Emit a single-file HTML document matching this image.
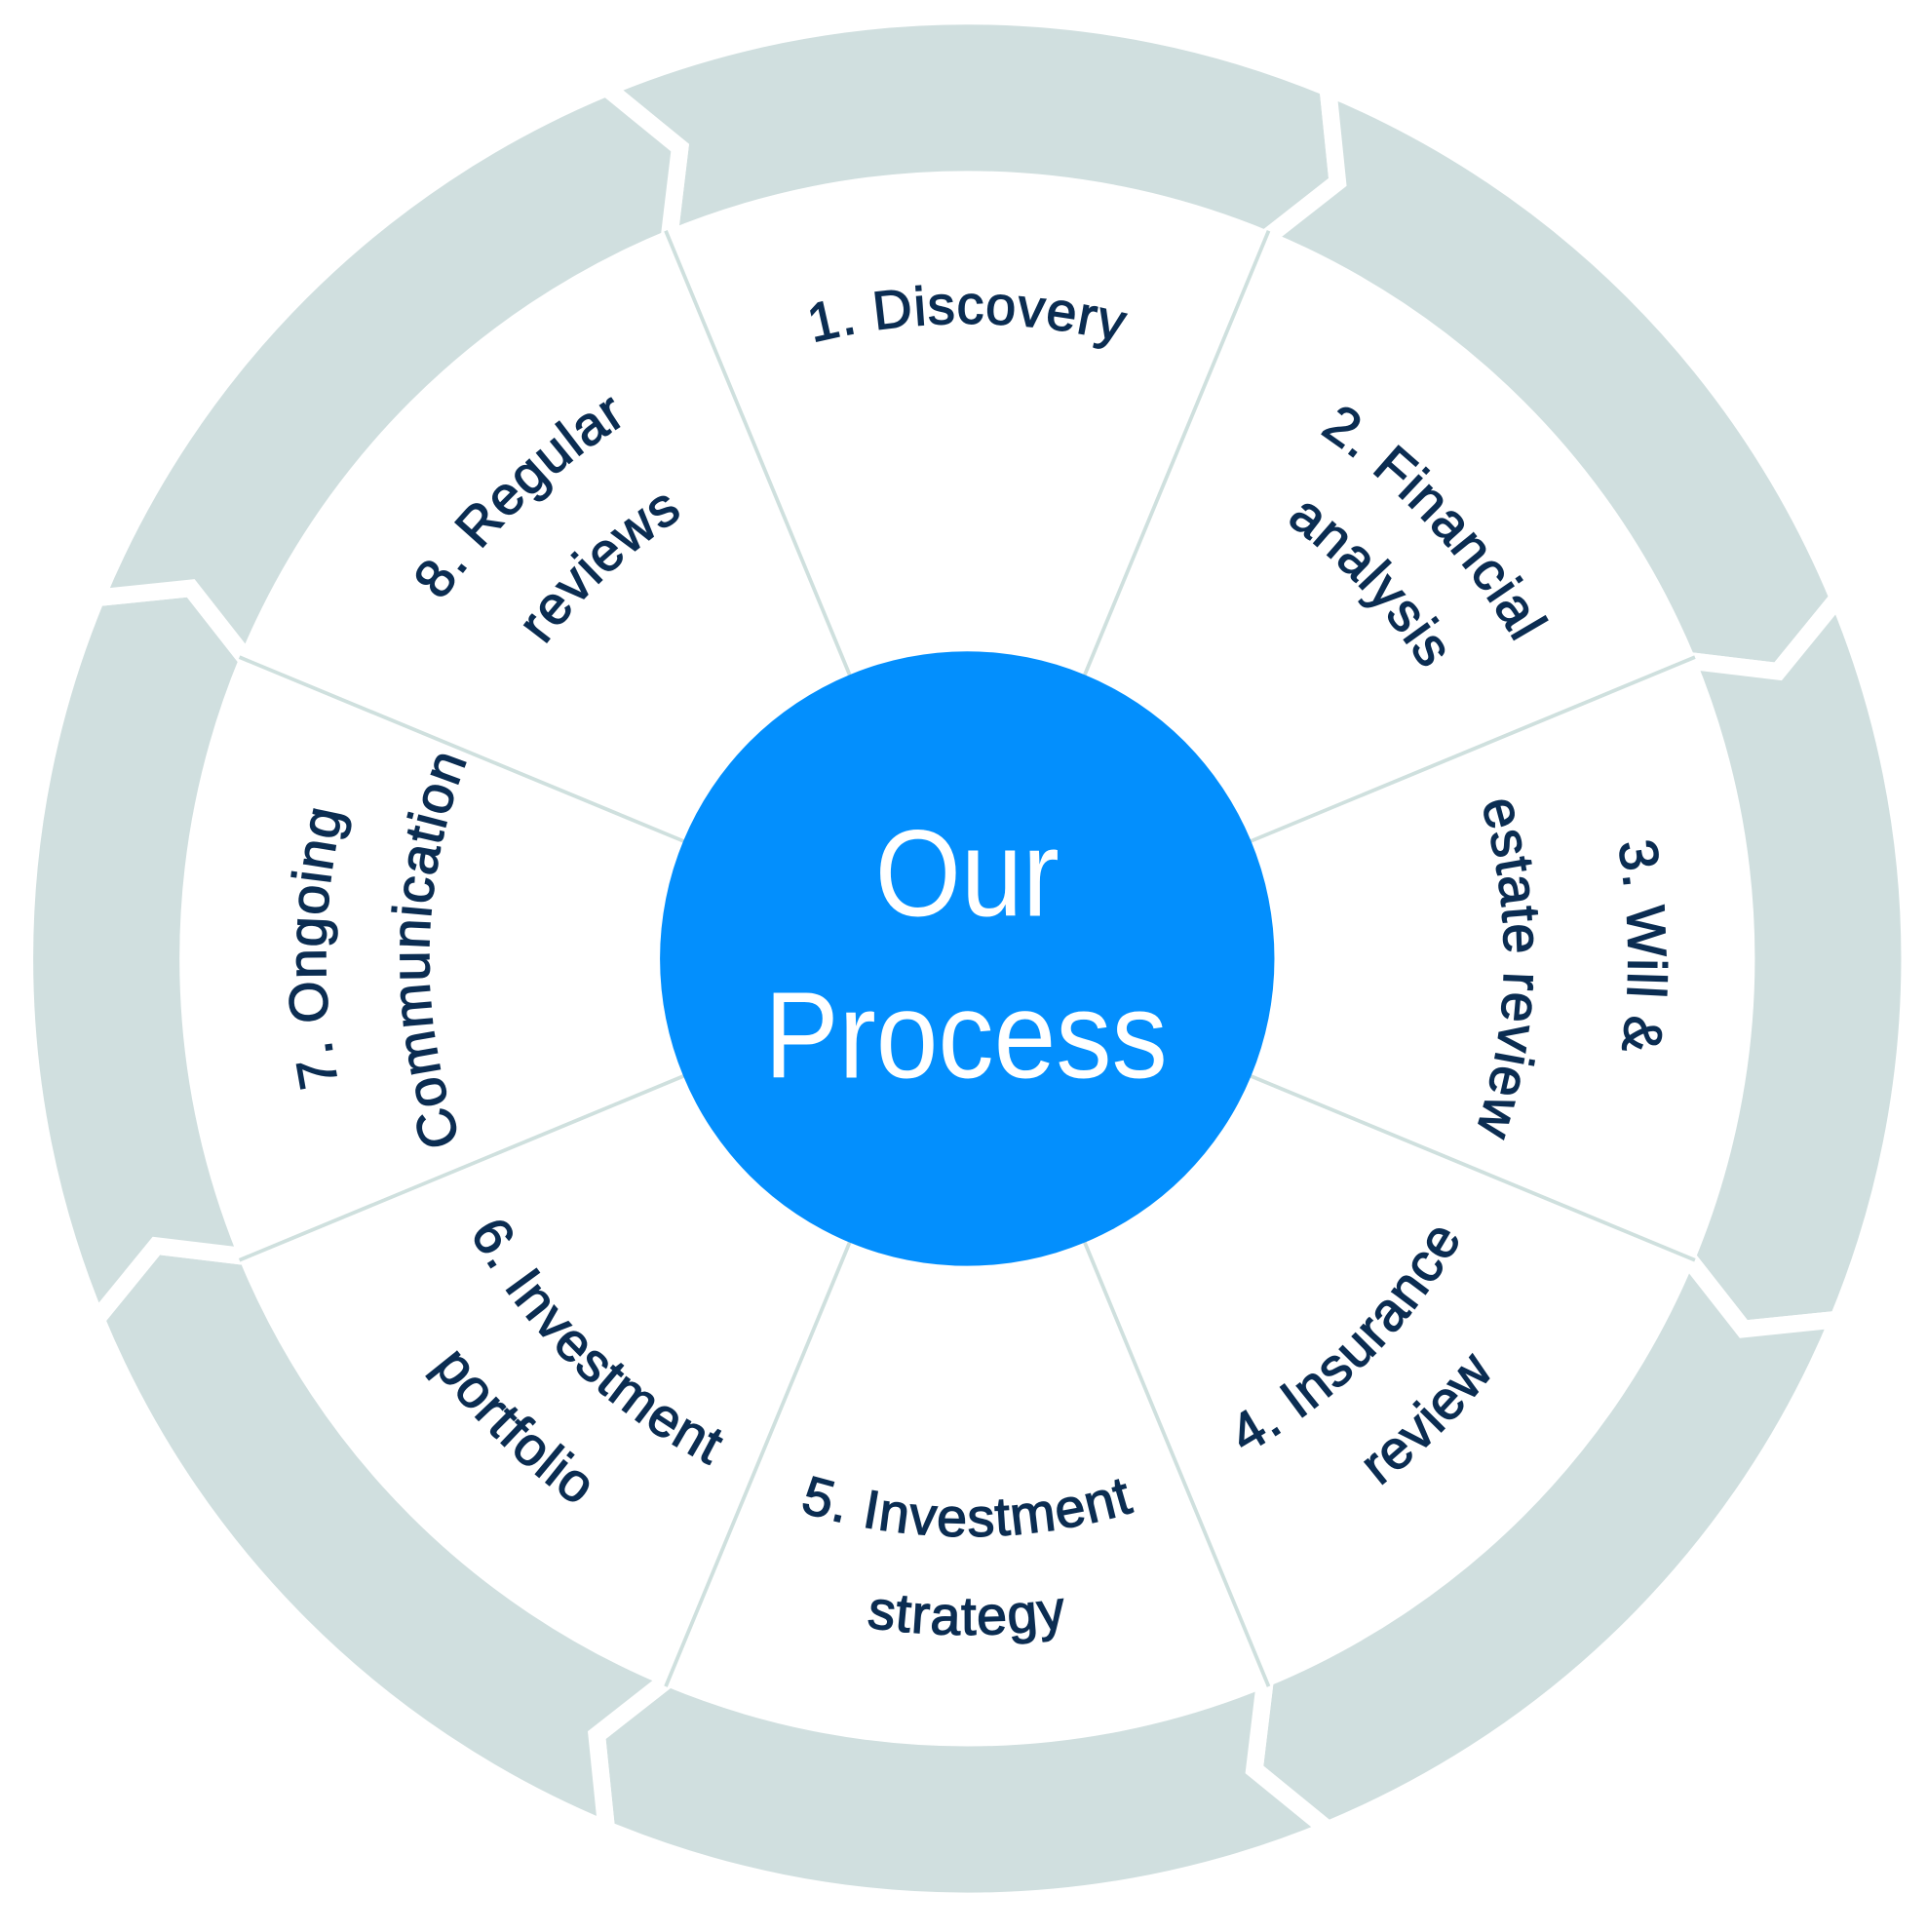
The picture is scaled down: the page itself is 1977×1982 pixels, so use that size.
<!DOCTYPE html>
<html><head><meta charset="utf-8">
<style>
html,body{margin:0;padding:0;background:#fff;}
svg{display:block;}
.t{font-family:"Liberation Sans",sans-serif;font-size:44px;fill:#0b2d52;stroke:#0b2d52;stroke-width:1.1;letter-spacing:1px;}
</style></head>
<body>
<svg id="s" width="1977" height="1982" viewBox="0 0 1568 1572" xmlns="http://www.w3.org/2000/svg">
<defs id="d"></defs>
<g id="ring"></g>
<g id="spokes"></g>
<circle cx="787" cy="780" r="250" fill="#038ffd"/>
<text x="787" y="745" text-anchor="middle" font-family="Liberation Sans, sans-serif" font-size="100" fill="#fff" textLength="150" lengthAdjust="spacingAndGlyphs">Our</text>
<text x="786" y="877" text-anchor="middle" font-family="Liberation Sans, sans-serif" font-size="100" fill="#fff" textLength="328" lengthAdjust="spacingAndGlyphs">Process</text>
<g id="labels"></g>
</svg>
<script>
(function(){
var NS="http://www.w3.org/2000/svg",cx=787,cy=780;
function P(r,a){a=a*Math.PI/180;return [cx+r*Math.cos(a),cy+r*Math.sin(a)];}
function f(p){return p[0].toFixed(1)+","+p[1].toFixed(1);}
var Ro=767,Ri=634,Rm=700,d=3;
var ring=document.getElementById("ring"),sp=document.getElementById("spokes");
for(var i=0;i<8;i++){
 var c=-90+45*i,a0=c-22.5,a1=c+22.5;
 var p="M"+f(P(Ro,a0))+" A"+Ro+","+Ro+" 0 0 1 "+f(P(Ro,a1))+" L"+f(P(Rm,a1+d))+" L"+f(P(Ri,a1))+" A"+Ri+","+Ri+" 0 0 0 "+f(P(Ri,a0))+" L"+f(P(Rm,a0+d))+" Z";
 var e=document.createElementNS(NS,"path");e.setAttribute("d",p);e.setAttribute("fill","#d0dfdf");e.setAttribute("stroke","#fff");e.setAttribute("stroke-width","14");e.setAttribute("stroke-linejoin","miter");ring.appendChild(e);
 var l=document.createElementNS(NS,"line");var q0=P(250,a0),q1=P(641,a0);
 l.setAttribute("x1",q0[0]);l.setAttribute("y1",q0[1]);l.setAttribute("x2",q1[0]);l.setAttribute("y2",q1[1]);
 l.setAttribute("stroke","#cfe0de");l.setAttribute("stroke-width","3");sp.appendChild(l);
}
var defs=document.getElementById("d"),lab=document.getElementById("labels"),n=0;
function arc(r,c,cw,txt){
 var id="a"+(n++),pa=document.createElementNS(NS,"path"),s,e2,dd;
 if(cw){s=P(r,c-60);e2=P(r,c+60);dd="M"+f(s)+" A"+r+","+r+" 0 0 1 "+f(e2);}
 else{s=P(r,c+60);e2=P(r,c-60);dd="M"+f(s)+" A"+r+","+r+" 0 0 0 "+f(e2);}
 pa.setAttribute("id",id);pa.setAttribute("d",dd);defs.appendChild(pa);
 var t=document.createElementNS(NS,"text");t.setAttribute("class","t");t.setAttribute("text-anchor","middle");
 var tp=document.createElementNS(NS,"textPath");tp.setAttribute("href","#"+id);tp.setAttributeNS("http://www.w3.org/1999/xlink","xlink:href","#"+id);tp.setAttribute("startOffset","50%");tp.textContent=txt;
 t.appendChild(tp);lab.appendChild(t);
}
arc(517,-90,true,"1.  Discovery");
arc(515,-43,true,"2. Financial");arc(440,-43,true,"analysis");
arc(538,-1,true,"3. Will &");arc(437,1,true,"estate review");
arc(462,45,false,"4. Insurance");arc(545,45,false,"review");
arc(470,90,false,"5. Investment");arc(550,90,false,"strategy");
arc(462,134,false,"6. Investment");arc(547,134,false,"portfolio");
arc(522,181,true,"7. Ongoing");arc(438,181,true,"Communication");
arc(517,-134,true,"8. Regular");arc(428,-133,true,"reviews");
})();
</script>
</body></html>
